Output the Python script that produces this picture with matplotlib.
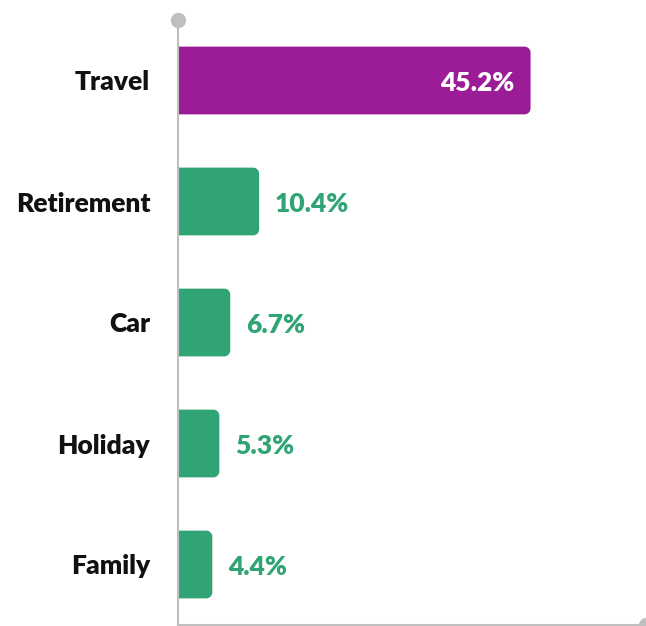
import matplotlib
matplotlib.use("Agg")
import matplotlib.pyplot as plt
from matplotlib.path import Path
from matplotlib.patches import PathPatch

categories = ["Travel", "Retirement", "Car", "Holiday", "Family"]
values = [45.2, 10.4, 6.7, 5.3, 4.4]
labels = ["45.2%", "10.4%", "6.7%", "5.3%", "4.4%"]

PURPLE = "#9C1C97"
GREEN = "#30A474"
GREY = "#BFBFBF"

W, H = 646, 626
fig = plt.figure(figsize=(W / 100, H / 100), dpi=100)
ax = fig.add_axes([178 / W, 1 - 625 / H, (646 - 178) / W, (625 - 20) / H])

ypos = list(range(len(categories)))
colors = [PURPLE] + [GREEN] * (len(categories) - 1)
bars = ax.barh(ypos, values, height=0.56, color=colors)
ax.set_xlim(0, 60)
ax.set_ylim(len(categories) - 0.5, -0.5)

# px per data unit
pxx = (646 - 178) / 60.0
pxy = (625 - 20) / len(categories)
r_px = 6
for b in bars:
    x0, y0 = b.get_x(), b.get_y()
    w, h = b.get_width(), b.get_height()
    rx, ry = r_px / pxx, r_px / pxy
    x1, y1 = x0 + w, y0 + h
    k = 0.5523
    verts = [(x0, y0), (x1 - rx, y0),
             (x1 - rx + k * rx, y0), (x1, y0 + ry - k * ry), (x1, y0 + ry),
             (x1, y1 - ry),
             (x1, y1 - ry + k * ry), (x1 - rx + k * rx, y1), (x1 - rx, y1),
             (x0, y1), (x0, y0)]
    codes = [Path.MOVETO, Path.LINETO,
             Path.CURVE4, Path.CURVE4, Path.CURVE4,
             Path.LINETO,
             Path.CURVE4, Path.CURVE4, Path.CURVE4,
             Path.LINETO, Path.CLOSEPOLY]
    patch = PathPatch(Path(verts, codes), facecolor=b.get_facecolor(), edgecolor="none", zorder=2)
    ax.add_patch(patch)
    b.set_visible(False)

font = "Lato"
fs = 19
dy = 2.5 / pxy
for i, (v, lab) in enumerate(zip(values, labels)):
    if i == 0:
        ax.text(v - 16 / pxx, i + dy, lab, ha="right", va="center", color="white",
                fontsize=fs, fontweight="heavy", family=font, zorder=3)
    else:
        ax.text(v + 16 / pxx, i + dy, lab, ha="left", va="center", color=GREEN,
                fontsize=fs, fontweight="heavy", family=font, zorder=3)

ax.set_yticks(ypos)
ax.set_yticklabels(categories, fontsize=fs, fontweight="heavy", family=font, color="#111111")
ax.tick_params(axis="y", length=0, pad=20)
ax.set_xticks([])

for s in ["top", "right"]:
    ax.spines[s].set_visible(False)
for s in ["left", "bottom"]:
    ax.spines[s].set_color(GREY)
    ax.spines[s].set_linewidth(1.5)

ax.plot([0], [-0.5], marker="o", markersize=10, color=GREY, clip_on=False, zorder=4)
ax.plot([60], [len(categories) - 0.5], marker="o", markersize=10, color=GREY, clip_on=False, zorder=4)

fig.savefig("out.png", dpi=100)
